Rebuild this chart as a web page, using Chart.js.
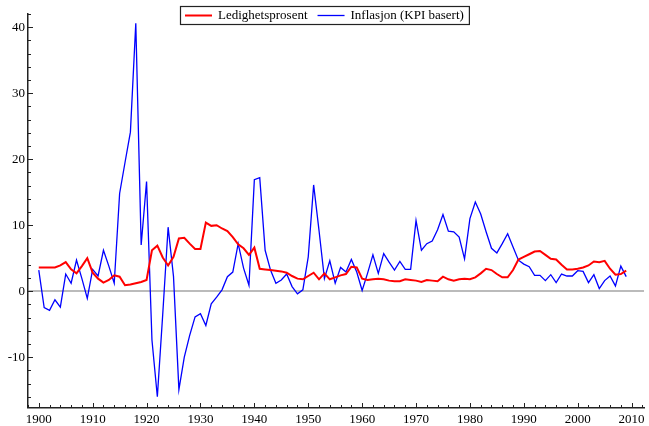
<!DOCTYPE html>
<html>
<head>
<meta charset="utf-8">
<script src="https://cdn.jsdelivr.net/npm/chart.js@4.4.1/dist/chart.umd.min.js"></script>
<style>
  html, body { margin: 0; padding: 0; background: #fff; }
  #wrap { width: 649px; height: 426px; }
</style>
</head>
<body>
<div id="wrap"><canvas id="lineChart" width="649" height="426"></canvas></div>
<script>
// years on the x axis
const years = [
  1900, 1901, 1902, 1903, 1904, 1905, 1906, 1907, 1908, 1909,
  1910, 1911, 1912, 1913, 1914, 1915, 1916, 1917, 1918, 1919,
  1920, 1921, 1922, 1923, 1924, 1925, 1926, 1927, 1928, 1929,
  1930, 1931, 1932, 1933, 1934, 1935, 1936, 1937, 1938, 1939,
  1940, 1941, 1942, 1943, 1944, 1945, 1946, 1947, 1948, 1949,
  1950, 1951, 1952, 1953, 1954, 1955, 1956, 1957, 1958, 1959,
  1960, 1961, 1962, 1963, 1964, 1965, 1966, 1967, 1968, 1969,
  1970, 1971, 1972, 1973, 1974, 1975, 1976, 1977, 1978, 1979,
  1980, 1981, 1982, 1983, 1984, 1985, 1986, 1987, 1988, 1989,
  1990, 1991, 1992, 1993, 1994, 1995, 1996, 1997, 1998, 1999,
  2000, 2001, 2002, 2003, 2004, 2005, 2006, 2007, 2008, 2009
];

// Ledighetsprosent
const ledighet = [
  3.6, 3.6, 3.6, 3.6, 3.9, 4.4, 3.3, 2.7, 3.8, 5.0,
  2.8, 1.9, 1.3, 1.7, 2.4, 2.2, 0.9, 1.0, 1.2, 1.4,
  1.7, 6.2, 6.9, 5.1, 3.9, 5.2, 8.0, 8.1, 7.2, 6.4,
  6.4, 10.4, 9.9, 10.0, 9.5, 9.1, 8.2, 7.1, 6.5, 5.5,
  6.6, 3.4, 3.3, 3.2, 3.1, 3.0, 2.8, 2.3, 1.9, 1.8,
  2.3, 2.8, 1.8, 2.7, 1.8, 2.1, 2.4, 2.6, 3.7, 3.6,
  1.9, 1.7, 1.8, 1.9, 1.8, 1.6, 1.5, 1.5, 1.8, 1.7,
  1.6, 1.4, 1.7, 1.6, 1.5, 2.2, 1.8, 1.6, 1.8, 1.9,
  1.8, 2.1, 2.7, 3.4, 3.2, 2.6, 2.1, 2.1, 3.2, 4.8,
  5.2, 5.6, 6.0, 6.1, 5.5, 4.9, 4.8, 4.0, 3.3, 3.3,
  3.4, 3.6, 3.9, 4.5, 4.4, 4.6, 3.4, 2.5, 2.6, 3.1
];

// Inflasjon (KPI basert)
const inflasjon = [
  3.2, -2.5, -2.9, -1.3, -2.4, 2.6, 1.2, 4.7, 1.9, -1.1,
  3.3, 2.3, 6.2, 3.8, 1.2, 14.8, 19.5, 24.1, 40.6, 7.0,
  16.6, -7.4, -16.0, -3.5, 9.7, 2.2, -14.9, -10.0, -6.7, -3.9,
  -3.4, -5.2, -1.9, -0.9, 0.2, 2.2, 2.9, 7.2, 3.5, 0.9,
  16.9, 17.2, 6.2, 3.2, 1.2, 1.7, 2.6, 0.7, -0.4, 0.2,
  5.2, 16.1, 9.2, 1.9, 4.6, 1.2, 3.6, 2.9, 4.8, 2.9,
  0.1, 2.7, 5.5, 2.7, 5.7, 4.4, 3.2, 4.5, 3.3, 3.3,
  10.7, 6.2, 7.2, 7.6, 9.3, 11.6, 9.1, 9.0, 8.2, 4.9,
  11.0, 13.5, 11.7, 9.0, 6.5, 5.8, 7.2, 8.7, 6.7, 4.7,
  4.1, 3.7, 2.4, 2.4, 1.6, 2.5, 1.3, 2.6, 2.3, 2.3,
  3.1, 3.0, 1.3, 2.5, 0.4, 1.6, 2.3, 0.8, 3.8, 2.2
];

// axis tick values
const xTicks = [];
for (let y = 1898; y <= 2012; y += 2) xTicks.push(y);
const yTicks = [];
for (let v = -16; v <= 42; v += 2) yTicks.push(v);

const serif = '"Liberation Serif", "DejaVu Serif", serif';

function toPoints(vals) {
  return years.map((yr, i) => ({ x: yr, y: vals[i] }));
}

// inward tick marks (major every 10, minor every 2)
const innerTicks = {
  id: 'innerTicks',
  afterDatasetsDraw(chart) {
    const c = chart.ctx;
    const xs = chart.scales.x, ys = chart.scales.y;
    const area = chart.chartArea;
    c.save();
    c.strokeStyle = '#222';
    c.lineWidth = 1;
    xTicks.forEach(v => {
      const px = Math.round(xs.getPixelForValue(v)) + 0.5;
      const len = v % 10 === 0 ? 5 : 3;
      c.beginPath();
      c.moveTo(px, area.bottom);
      c.lineTo(px, area.bottom - len);
      c.stroke();
    });
    yTicks.forEach(v => {
      const py = Math.round(ys.getPixelForValue(v)) + 0.5;
      const len = v % 10 === 0 ? 5 : 3;
      c.beginPath();
      c.moveTo(area.left, py);
      c.lineTo(area.left + len, py);
      c.stroke();
    });
    c.restore();
  }
};

// boxed legend at the top, centred on the canvas
const boxLegend = {
  id: 'boxLegend',
  afterDraw(chart) {
    const c = chart.ctx;
    const sets = chart.data.datasets;
    c.save();
    c.font = '13px ' + serif;
    const sample = 27, gapTxt = 6, gapItem = 10, pad = 5;
    let total = pad * 2;
    sets.forEach((ds, i) => {
      total += sample + gapTxt + c.measureText(ds.label).width;
      if (i < sets.length - 1) total += gapItem;
    });
    let x = Math.round(chart.width / 2 - total / 2);
    const top = 6, h = 18, mid = top + h / 2 + 0.5;
    c.fillStyle = '#fff';
    c.fillRect(x, top, total, h);
    c.strokeStyle = '#222';
    c.lineWidth = 1.2;
    c.strokeRect(x + 0.5, top + 0.5, total, h);
    x += pad;
    sets.forEach(ds => {
      c.strokeStyle = ds.borderColor;
      c.lineWidth = ds.borderWidth;
      c.beginPath();
      c.moveTo(x, mid);
      c.lineTo(x + sample, mid);
      c.stroke();
      x += sample + gapTxt;
      c.fillStyle = '#000';
      c.textBaseline = 'middle';
      c.fillText(ds.label, x, mid + 0.5);
      x += c.measureText(ds.label).width + gapItem;
    });
    c.restore();
  }
};

let ctx = document.getElementById('lineChart').getContext('2d');
let lineChart = new Chart(ctx, {
  type: 'line',
  data: {
    datasets: [
      {
        label: 'Ledighetsprosent',
        data: toPoints(ledighet),
        borderColor: '#ff0000',
        borderWidth: 2,
        pointRadius: 0,
        tension: 0
      }, {
        label: 'Inflasjon (KPI basert)',
        data: toPoints(inflasjon),
        borderColor: '#0000ff',
        borderWidth: 1.3,
        pointRadius: 0,
        tension: 0
      }
    ]
  },
  options: {
    responsive: false,
    animation: false,
    layout: { padding: { top: 14, right: 5, left: 0, bottom: 0 } },
    plugins: {
      legend: { display: false },
      tooltip: { enabled: false }
    },
    scales: {
      x: {
        type: 'linear',
        min: 1898,
        max: 2012.3,
        afterBuildTicks: s => { s.ticks = xTicks.map(v => ({ value: v })); },
        afterFit: s => { s.height = 18; },
        grid: { drawOnChartArea: false, drawTicks: false },
        border: { display: true, color: '#222', width: 1.5 },
        ticks: {
          padding: 4,
          maxRotation: 0,
          autoSkip: false,
          color: '#000',
          font: { family: serif, size: 13 },
          callback: v => (v % 10 === 0 ? String(v) : '')
        }
      },
      y: {
        min: -17.7,
        max: 42,
        afterBuildTicks: s => { s.ticks = yTicks.map(v => ({ value: v })); },
        afterFit: s => { s.width = 28; },
        grid: {
          drawTicks: false,
          color: c => (c.tick && c.tick.value === 0 ? '#bbbbbb' : 'rgba(0,0,0,0)'),
          lineWidth: c => (c.tick && c.tick.value === 0 ? 2 : 0)
        },
        border: { display: true, color: '#222', width: 1.5 },
        ticks: {
          padding: 3,
          autoSkip: false,
          color: '#000',
          font: { family: serif, size: 13 },
          callback: v => (v % 10 === 0 ? String(v) : '')
        }
      }
    }
  },
  plugins: [innerTicks, boxLegend]
});
</script>
</body>
</html>
